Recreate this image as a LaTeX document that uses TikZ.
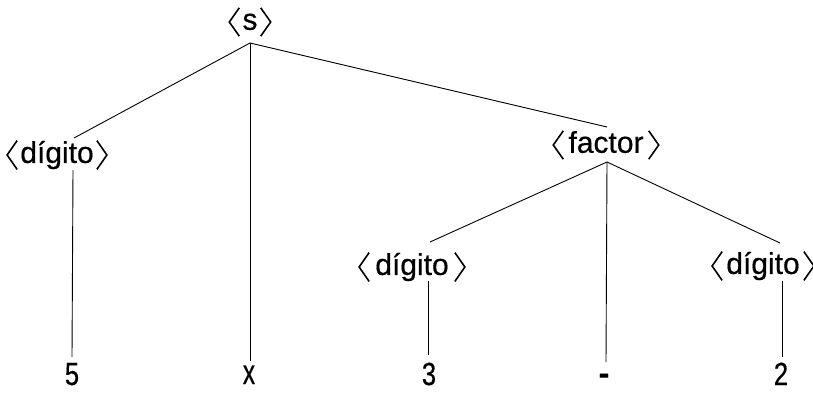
\documentclass[tikz,border=0pt]{standalone}
\usepackage{fontspec}
\setmainfont{Liberation Sans}[FakeBold=0.5]
\newfontfamily\narrowf{Liberation Sans}[FakeBold=0.5,FakeStretch=0.8]
\newfontfamily\narrowx{Liberation Sans}[FakeBold=0.5,FakeStretch=0.7]
\begin{document}
\begin{tikzpicture}[x=1pt,y=-1pt,
  nt/.style={font=\fontsize{30}{32}\selectfont, inner xsep=13pt, inner ysep=0pt},
  lf/.style={font=\narrowf\fontsize{32}{34}\selectfont, inner sep=0pt, anchor=base},
  conn/.style={line width=0.9pt},
  brk/.style={line width=1.6pt, line join=miter, miter limit=10}]
\useasboundingbox (0,0) rectangle (813,392);

% nonterminal nodes
\node[nt] (s)  at (250,22)  {\vphantom{dg}s};
\node[nt, inner xsep=15pt] (f)  at (606,145) {\vphantom{dg}factor};
\node[nt] (d1) at (57,155)  {\vphantom{dg}dígito};
\node[nt, inner xsep=16pt] (d2) at (412,267) {\vphantom{dg}dígito};
\node[nt, inner xsep=14pt] (d3) at (763,266) {\vphantom{dg}dígito};

\foreach \n in {s,d1,f,d2,d3}{
  \draw[brk] ([xshift=10pt]\n.north west) -- (\n.west) -- ([xshift=10pt]\n.south west);
  \draw[brk] ([xshift=-10pt]\n.north east) -- (\n.east) -- ([xshift=-10pt]\n.south east);
}

% leaves
\node[lf] (l5) at (72,385)  {5};
\node[lf, font=\narrowx\fontsize{35}{37}\selectfont] (lx) at (249,384) {x};
\node[lf] (l3) at (429,385) {3};
\node[lf, font=\fontsize{32}{34}\selectfont\bfseries] (lm) at (604,384) {-};
\node[lf] (l2) at (781,385) {2};

% connector end points
\coordinate (sb)  at (250,43);
\coordinate (d1t) at (74,138);
\coordinate (d1b) at (73,170);
\coordinate (ft)  at (607,127);
\coordinate (fb)  at (607,162);
\coordinate (d2t) at (430,242);
\coordinate (d2b) at (428,281);
\coordinate (d3t) at (780,243);
\coordinate (d3b) at (782,281);
\coordinate (l5t) at (72,357);
\coordinate (lxt) at (250,361);
\coordinate (l3t) at (428,355);
\coordinate (lmt) at (606,362);
\coordinate (l2t) at (782,357);

\draw[conn] (sb) -- (d1t);
\draw[conn] (sb) -- (lxt);
\draw[conn] (sb) -- (ft);
\draw[conn] (d1b) -- (l5t);
\draw[conn] (fb) -- (d2t);
\draw[conn] (fb) -- (lmt);
\draw[conn] (fb) -- (d3t);
\draw[conn] (d2b) -- (l3t);
\draw[conn] (d3b) -- (l2t);
\end{tikzpicture}
\end{document}
